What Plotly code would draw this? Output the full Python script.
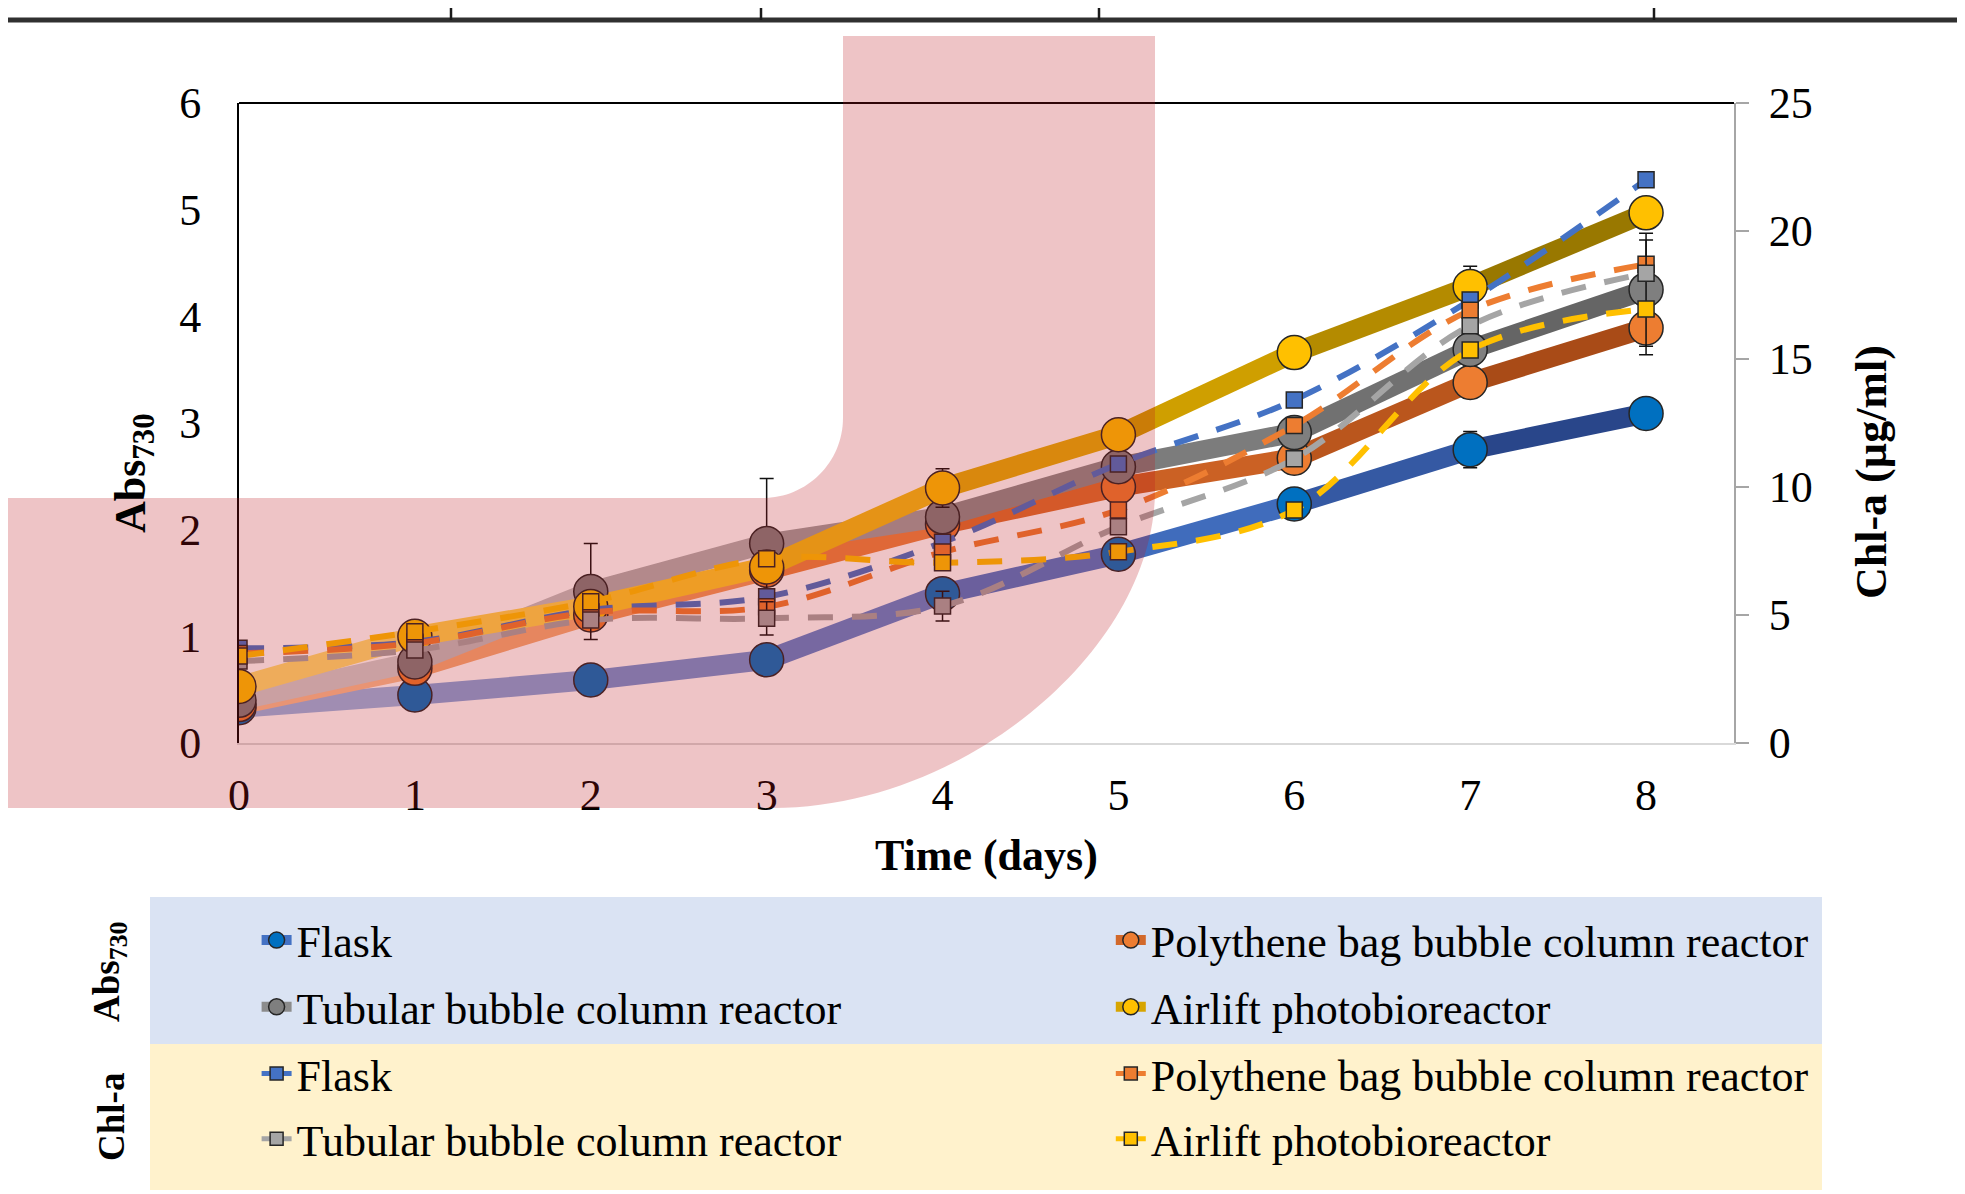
import plotly.graph_objects as go

# ---------------- data ----------------
days = [0, 1, 2, 3, 4, 5, 6, 7, 8]
day_labels = ["0", "1", "2", "3", "4", "5", "6", "7", "8"]
abs_ticks = [0, 1, 2, 3, 4, 5, 6]
chl_ticks = [0, 5, 10, 15, 20, 25]

series_names = ["Flask", "Polythene bag bubble column reactor",
                "Tubular bubble column reactor", "Airlift photobioreactor"]

abs_flask = [0.33, 0.45, 0.59, 0.78, 1.40, 1.77, 2.24, 2.75, 3.09]
abs_polythene = [0.36, 0.70, 1.20, 1.62, 2.05, 2.40, 2.67, 3.38, 3.89]
abs_tubular = [0.40, 0.76, 1.42, 1.87, 2.12, 2.59, 2.91, 3.69, 4.25]
abs_airlift = [0.53, 1.00, 1.28, 1.65, 2.39, 2.89, 3.66, 4.28, 4.97]

abs_flask_err = [0, 0, 0, 0, 0, 0, 0, 0.17, 0]
abs_polythene_err = [0, 0, 0, 0, 0, 0, 0, 0, 0.25]
abs_tubular_err = [0, 0, 0.45, 0.61, 0, 0, 0, 0, 0.53]
abs_airlift_err = [0, 0, 0, 0, 0.18, 0, 0, 0.19, 0]

chl_flask = [3.70, 3.95, 5.20, 5.71, 7.84, 10.90, 13.40, 17.30, 22.00]
chl_polythene = [3.50, 3.90, 5.10, 5.32, 7.46, 9.10, 12.40, 16.90, 18.70]
chl_tubular = [3.20, 3.63, 4.80, 4.87, 5.35, 8.45, 11.10, 16.30, 18.35]
chl_airlift = [3.40, 4.35, 5.52, 7.20, 7.04, 7.47, 9.10, 15.35, 16.95]

chl_flask_err = [0, 0, 0, 0, 0, 0, 0, 0, 0]
chl_polythene_err = [0, 0, 0, 0, 0, 0, 0, 0, 0]
chl_tubular_err = [0, 0, 0, 0.65, 0.58, 0, 0, 0, 1.30]
chl_airlift_err = [0, 0, 0, 0, 0, 0, 0, 0, 0]

# ---------------- styles ----------------
SERIF = "Liberation Serif, Times New Roman, serif"
OFF = 8                      # page body margin in the browser
W, H = 1965 - OFF, 1194 - OFF
# plot area in page pixels
L0, R0, T0, B0 = 239, 1734, 103, 743
L, R, T, B = L0 - OFF, R0 - OFF, T0 - OFF, B0 - OFF


def px(x):
    return (x - L0) / (R0 - L0)


def py(y):
    return (B0 - y) / (B0 - T0)


abs_series = [abs_flask, abs_polythene, abs_tubular, abs_airlift]
abs_errs = [abs_flask_err, abs_polythene_err, abs_tubular_err, abs_airlift_err]
chl_series = [chl_flask, chl_polythene, chl_tubular, chl_airlift]
chl_errs = [chl_flask_err, chl_polythene_err, chl_tubular_err, chl_airlift_err]

circle_colors = ["#0070C0", "#ED7D31", "#7F7F7F", "#FFC000"]
chl_colors = ["#4472C4", "#ED7D31", "#A5A5A5", "#FFC000"]
legend_line_colors = ["#4472C4", "#D2692A", "#8C8C8C", "#D7A500"]

grad_stops = [
    [(0.0, (160, 190, 232)), (0.45, (95, 130, 205)), (0.65, (68, 114, 196)), (1.0, (35, 60, 125))],
    [(0.0, (250, 200, 160)), (0.4, (240, 140, 70)), (0.6, (215, 105, 40)), (1.0, (160, 70, 20))],
    [(0.0, (215, 215, 215)), (0.4, (165, 165, 165)), (0.65, (128, 128, 128)), (1.0, (95, 95, 95))],
    [(0.0, (255, 228, 130)), (0.35, (255, 200, 30)), (0.65, (215, 165, 0)), (1.0, (140, 110, 0))],
]


def grad(stops, t):
    for (t0, c0), (t1, c1) in zip(stops, stops[1:]):
        if t0 <= t <= t1:
            f = (t - t0) / (t1 - t0)
            return "rgb(%d,%d,%d)" % tuple(round(a + (b - a) * f) for a, b in zip(c0, c1))
    return "rgb(%d,%d,%d)" % stops[-1][1]


fig = go.Figure()

# Abs730: thick gradient lines, drawn piecewise between consecutive readings
n = len(days)
for vals, stops in zip(abs_series, grad_stops):
    for i in range(n - 1):
        t = (i + 0.5) / (n - 1)
        fig.add_trace(go.Scatter(
            x=days[i:i + 2], y=vals[i:i + 2], mode="lines",
            line=dict(color=grad(stops, t), width=20),
            showlegend=False, hoverinfo="skip"))

# Abs730 circles with error bars
for vals, errs, col in zip(abs_series, abs_errs, circle_colors):
    fig.add_trace(go.Scatter(
        x=days, y=vals, mode="markers",
        marker=dict(symbol="circle", size=34, color=col,
                    line=dict(color="#262626", width=1.5)),
        error_y=dict(type="data", array=errs, visible=True, color="#111111",
                     thickness=1.5, width=7),
        showlegend=False, hoverinfo="skip"))

# Chl-a dashed lines with squares (secondary axis)
for vals, errs, col in zip(chl_series, chl_errs, chl_colors):
    fig.add_trace(go.Scatter(
        x=days, y=vals, yaxis="y2", mode="lines+markers",
        line=dict(color=col, width=6, dash="25px,19px", shape="spline", smoothing=1),
        marker=dict(symbol="square", size=16, color=col,
                    line=dict(color="#262626", width=1.5)),
        error_y=dict(type="data", array=errs, visible=True, color="#111111",
                     thickness=1.5, width=7),
        showlegend=False, hoverinfo="skip"))

# ---------------- legend entries (one legend per entry) ----------------
col_x = [256.6, 1110.8]
row_top = [905.0, 971.7, 1038.4, 1103.7]
legend_layouts = {}
order = [0, 1, 2, 3]  # Flask, Polythene | Tubular, Airlift
k = 0
for group in range(2):
    for j, si in enumerate(order):
        k += 1
        lname = "legend" if k == 1 else "legend%d" % k
        row = group * 2 + j // 2
        colx = col_x[j % 2]
        if group == 0:
            tr = go.Scatter(
                x=[None], y=[None], mode="lines+markers", name=series_names[si],
                line=dict(color=legend_line_colors[si], width=10),
                marker=dict(symbol="circle", size=16, color=circle_colors[si],
                            line=dict(color="#262626", width=1.5)),
                legend=lname, showlegend=True, hoverinfo="skip")
        else:
            tr = go.Scatter(
                x=[None], y=[None], mode="lines+markers", name=series_names[si],
                line=dict(color=chl_colors[si], width=5),
                marker=dict(symbol="square", size=13, color=chl_colors[si],
                            line=dict(color="#262626", width=1.5)),
                legend=lname, showlegend=True, hoverinfo="skip")
        fig.add_trace(tr)
        legend_layouts[lname] = dict(
            x=px(colx), y=py(row_top[row]), xref="paper", yref="paper",
            xanchor="left", yanchor="top", bgcolor="rgba(0,0,0,0)", borderwidth=0,
            font=dict(family=SERIF, size=44, color="black"))

# ---------------- shapes ----------------
shapes = []
# legend background panels
shapes.append(dict(type="rect", xref="paper", yref="paper", layer="below",
                   x0=px(150), x1=px(1822), y0=py(1044), y1=py(897),
                   fillcolor="#DAE3F3", line=dict(width=0)))
shapes.append(dict(type="rect", xref="paper", yref="paper", layer="below",
                   x0=px(150), x1=px(1822), y0=py(1190), y1=py(1044),
                   fillcolor="#FFF2CC", line=dict(width=0)))
# top border of plot area
shapes.append(dict(type="line", xref="paper", yref="paper", layer="above",
                   x0=0, x1=1, y0=1, y1=1, line=dict(color="black", width=2)))
# table rule remnants at the very top of the image
shapes.append(dict(type="line", xref="paper", yref="paper", layer="above",
                   x0=px(0), x1=px(1965), y0=py(20), y1=py(20),
                   line=dict(color="#303030", width=5)))
for vx in [451, 761, 1099, 1654]:
    shapes.append(dict(type="line", xref="paper", yref="paper", layer="above",
                       x0=px(vx), x1=px(vx), y0=py(OFF), y1=py(20),
                       line=dict(color="#1a1a1a", width=2.5)))


def P(x, y):
    return "%.5f,%.5f" % (px(x), py(y))


ko, ki = 0.5, 0.5523
path = ("M" + P(843, 36) + " L" + P(1155, 36) + " L" + P(1155, 490) +
        " C" + P(1155, 490 + ko * 318) + " " + P(773 + ko * 382, 808) + " " + P(773, 808) +
        " L" + P(OFF, 808) + " L" + P(OFF, 498) + " L" + P(763, 498) +
        " C" + P(763 + ki * 80, 498) + " " + P(843, 418 + ki * 80) + " " + P(843, 418) + " Z")
shapes.append(dict(type="path", xref="paper", yref="paper", layer="above", path=path,
                   fillcolor="rgba(187,19,27,0.25)", line=dict(width=0)))

# ---------------- annotations ----------------
annotations = [
    dict(text="<b>Time (days)</b>", x=0.5, y=py(855), xref="paper", yref="paper",
         xanchor="center", yanchor="middle", showarrow=False,
         font=dict(family=SERIF, size=44, color="black")),
    dict(text="<b>Abs<sub>730</sub></b>", x=px(133), y=py(473), xref="paper", yref="paper",
         xanchor="center", yanchor="middle", showarrow=False, textangle=-90,
         font=dict(family=SERIF, size=44, color="black")),
    dict(text="<b>Chl-a (µg/ml)</b>", x=px(1871), y=py(472), xref="paper", yref="paper",
         xanchor="center", yanchor="middle", showarrow=False, textangle=-90,
         font=dict(family=SERIF, size=44, color="black")),
    dict(text="<b>Abs<sub>730</sub></b>", x=px(109), y=py(972), xref="paper", yref="paper",
         xanchor="center", yanchor="middle", showarrow=False, textangle=-90,
         font=dict(family=SERIF, size=37, color="black")),
    dict(text="<b>Chl-a</b>", x=px(111), y=py(1117), xref="paper", yref="paper",
         xanchor="center", yanchor="middle", showarrow=False, textangle=-90,
         font=dict(family=SERIF, size=37, color="black")),
]

fig.update_layout(
    width=W, height=H,
    margin=dict(l=L, r=W - R, t=T, b=H - B, autoexpand=False),
    paper_bgcolor="white", plot_bgcolor="rgba(0,0,0,0)",
    font=dict(family=SERIF, size=44, color="black"),
    showlegend=True,
    xaxis=dict(range=[0, 8.5], tickmode="array", tickvals=days, ticktext=day_labels,
               showline=True, linecolor="#D9D9D9", linewidth=2, ticks="",
               showgrid=False, zeroline=False, ticklabelstandoff=12,
               tickfont=dict(family=SERIF, size=44, color="black")),
    yaxis=dict(range=[0, 6], tickmode="array", tickvals=abs_ticks,
               showline=True, linecolor="black", linewidth=2, ticks="",
               showgrid=False, zeroline=False, ticklabelstandoff=27,
               tickfont=dict(family=SERIF, size=44, color="black")),
    yaxis2=dict(range=[0, 25], tickmode="array", tickvals=chl_ticks,
                overlaying="y", side="right",
                showline=True, linecolor="#A6A6A6", linewidth=2,
                ticks="outside", ticklen=13, tickwidth=2, tickcolor="#A6A6A6",
                showgrid=False, zeroline=False, ticklabelstandoff=11,
                tickfont=dict(family=SERIF, size=44, color="black")),
    shapes=shapes,
    annotations=annotations,
    **legend_layouts,
)

fig.write_html("out.html")
